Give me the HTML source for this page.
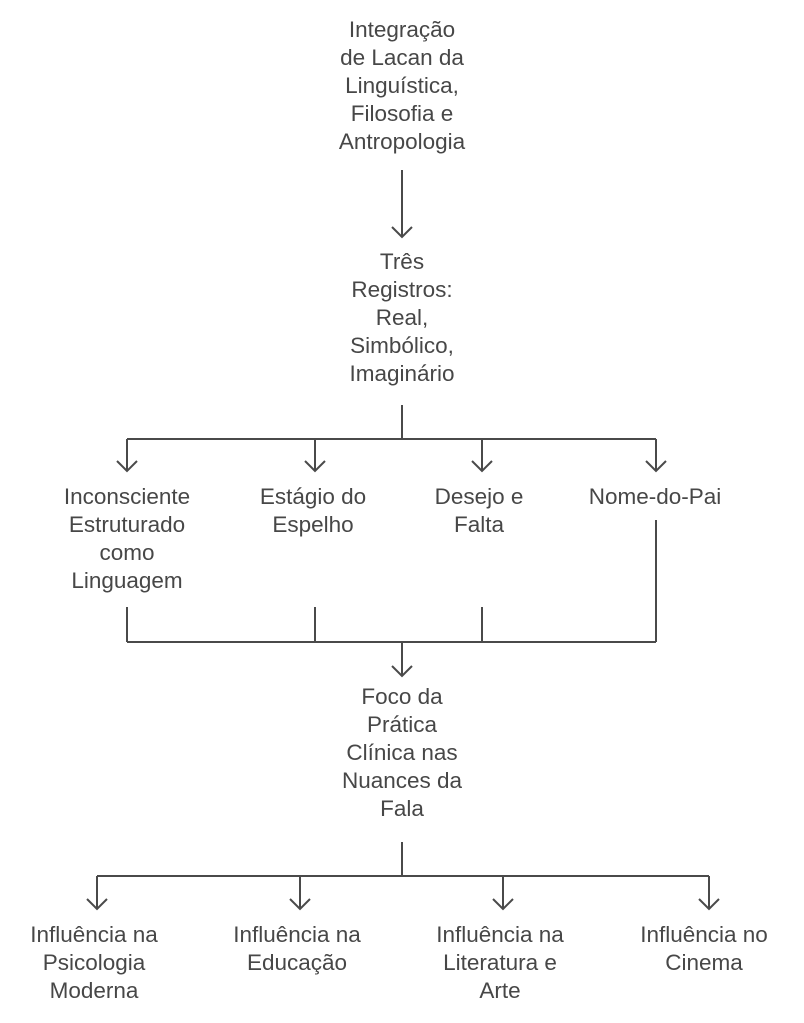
<!DOCTYPE html>
<html><head><meta charset="utf-8"><style>
body{margin:0;width:804px;height:1023px;background:#fff;position:relative;overflow:hidden;font-family:"Liberation Sans",sans-serif;}
.t{position:absolute;text-align:center;font-size:22.5px;line-height:28px;color:#474747;width:240px;white-space:nowrap;}
svg{position:absolute;left:0;top:0}
</style></head><body>
<svg width="804" height="1023" fill="none" stroke="#4a4a4a" stroke-width="2">
<path d="M402 170V237M392 227l10 10 10-10"/>
<path d="M402 405V439M127 439H656M127 439V471M315 439V471M482 439V471M656 439V471"/>
<path d="M117 461l10 10 10-10M305 461l10 10 10-10M472 461l10 10 10-10M646 461l10 10 10-10"/>
<path d="M127 607V642M315 607V642M482 607V642M656 520V642M127 642H656M402 642V676M392 666l10 10 10-10"/>
<path d="M402 842V876M97 876H709M97 876V909M300 876V909M503 876V909M709 876V909"/>
<path d="M87 899l10 10 10-10M290 899l10 10 10-10M493 899l10 10 10-10M699 899l10 10 10-10"/>
</svg>
<div class="t" style="left:282px;top:16px">Integração<br>de Lacan da<br>Linguística,<br>Filosofia e<br>Antropologia</div>
<div class="t" style="left:282px;top:248px">Três<br>Registros:<br>Real,<br>Simbólico,<br>Imaginário</div>
<div class="t" style="left:7px;top:483px">Inconsciente<br>Estruturado<br>como<br>Linguagem</div>
<div class="t" style="left:193px;top:483px">Estágio do<br>Espelho</div>
<div class="t" style="left:359px;top:483px">Desejo e<br>Falta</div>
<div class="t" style="left:535px;top:483px">Nome-do-Pai</div>
<div class="t" style="left:282px;top:683px">Foco da<br>Prática<br>Clínica nas<br>Nuances da<br>Fala</div>
<div class="t" style="left:-26px;top:921px">Influência na<br>Psicologia<br>Moderna</div>
<div class="t" style="left:177px;top:921px">Influência na<br>Educação</div>
<div class="t" style="left:380px;top:921px">Influência na<br>Literatura e<br>Arte</div>
<div class="t" style="left:584px;top:921px">Influência no<br>Cinema</div>
</body></html>
